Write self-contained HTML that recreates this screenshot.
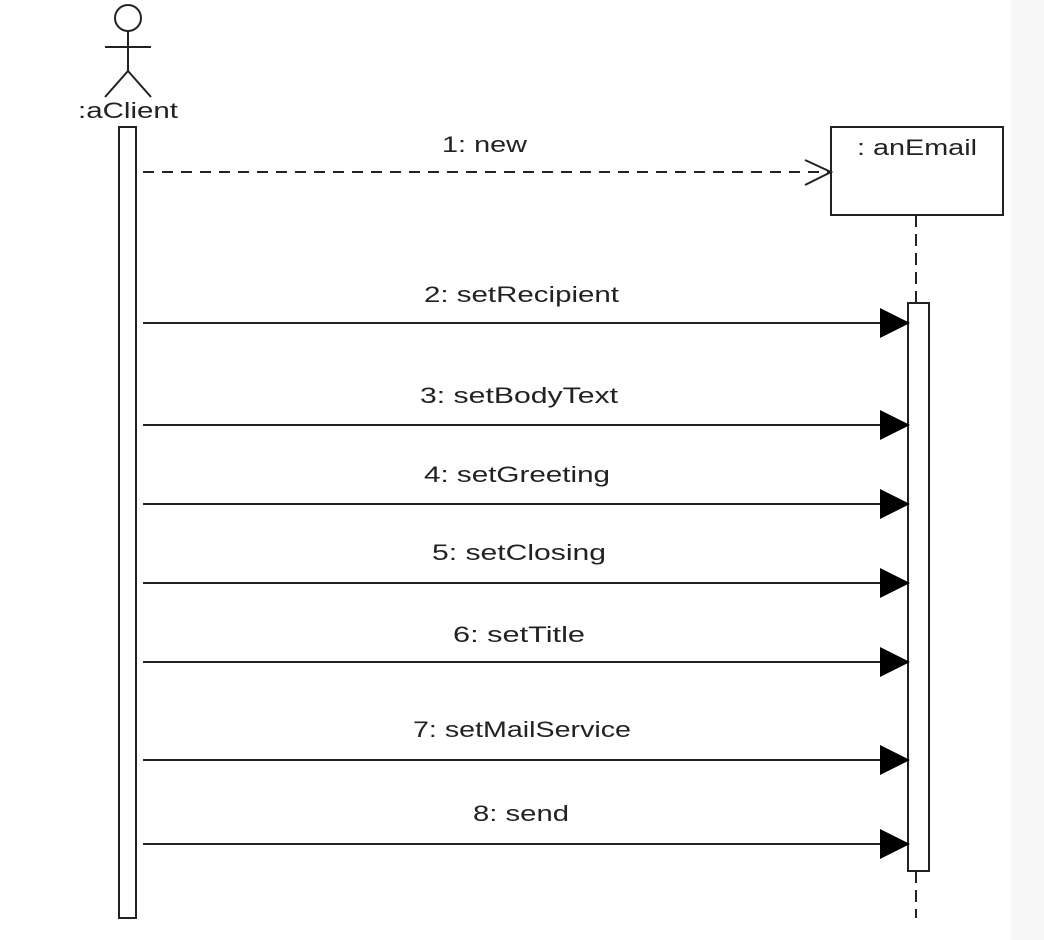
<!DOCTYPE html>
<html><head><meta charset="utf-8"><style>
html,body{margin:0;padding:0;background:#fff;}
svg{display:block;}
text{font-family:"Liberation Sans",sans-serif;font-size:22px;fill:#222;}
</style></head><body>
<svg width="1044" height="940" viewBox="0 0 1044 940">
<rect x="1011" y="0" width="33" height="940" fill="#f6f6f6"/>
<g stroke="#222" stroke-width="2" fill="none">
<circle cx="128" cy="18" r="13"/>
<line x1="128" y1="31" x2="128" y2="71"/>
<line x1="105" y1="47" x2="151" y2="47"/>
<line x1="128" y1="71" x2="105" y2="97"/>
<line x1="128" y1="71" x2="151" y2="97"/>
<rect x="119" y="127" width="17" height="791" fill="#fff"/>
<rect x="831" y="127" width="172" height="88" fill="#fff"/>
<line x1="916" y1="215" x2="916" y2="303" stroke-dasharray="12,7"/>
<line x1="916" y1="871" x2="916" y2="918" stroke-dasharray="12,7"/>
<rect x="908" y="303" width="21" height="568" fill="#fff"/>
<line x1="143" y1="172" x2="830" y2="172" stroke-dasharray="11,8"/>
<polyline points="805,160 831,172 805,185"/>
<line x1="143" y1="323" x2="900" y2="323"/>
<line x1="143" y1="425" x2="900" y2="425"/>
<line x1="143" y1="504" x2="900" y2="504"/>
<line x1="143" y1="583" x2="900" y2="583"/>
<line x1="143" y1="662" x2="900" y2="662"/>
<line x1="143" y1="760" x2="900" y2="760"/>
<line x1="143" y1="844" x2="900" y2="844"/>
</g>
<g fill="#000">
<polygon points="880,308 910,323 880,338"/>
<polygon points="880,410 910,425 880,440"/>
<polygon points="880,489 910,504 880,519"/>
<polygon points="880,568 910,583 880,598"/>
<polygon points="880,647 910,662 880,677"/>
<polygon points="880,745 910,760 880,775"/>
<polygon points="880,829 910,844 880,859"/>
</g>
<text x="78" y="118" textLength="100" lengthAdjust="spacingAndGlyphs">:aClient</text>
<text x="857" y="155" textLength="120" lengthAdjust="spacingAndGlyphs">: anEmail</text>
<text x="442" y="152" textLength="85" lengthAdjust="spacingAndGlyphs">1: new</text>
<text x="424" y="302" textLength="195" lengthAdjust="spacingAndGlyphs">2: setRecipient</text>
<text x="420" y="403" textLength="198" lengthAdjust="spacingAndGlyphs">3: setBodyText</text>
<text x="424" y="482" textLength="186" lengthAdjust="spacingAndGlyphs">4: setGreeting</text>
<text x="432" y="560" textLength="174" lengthAdjust="spacingAndGlyphs">5: setClosing</text>
<text x="453" y="642" textLength="132" lengthAdjust="spacingAndGlyphs">6: setTitle</text>
<text x="413" y="737" textLength="218" lengthAdjust="spacingAndGlyphs">7: setMailService</text>
<text x="473" y="821" textLength="96" lengthAdjust="spacingAndGlyphs">8: send</text>
</svg>
</body></html>
